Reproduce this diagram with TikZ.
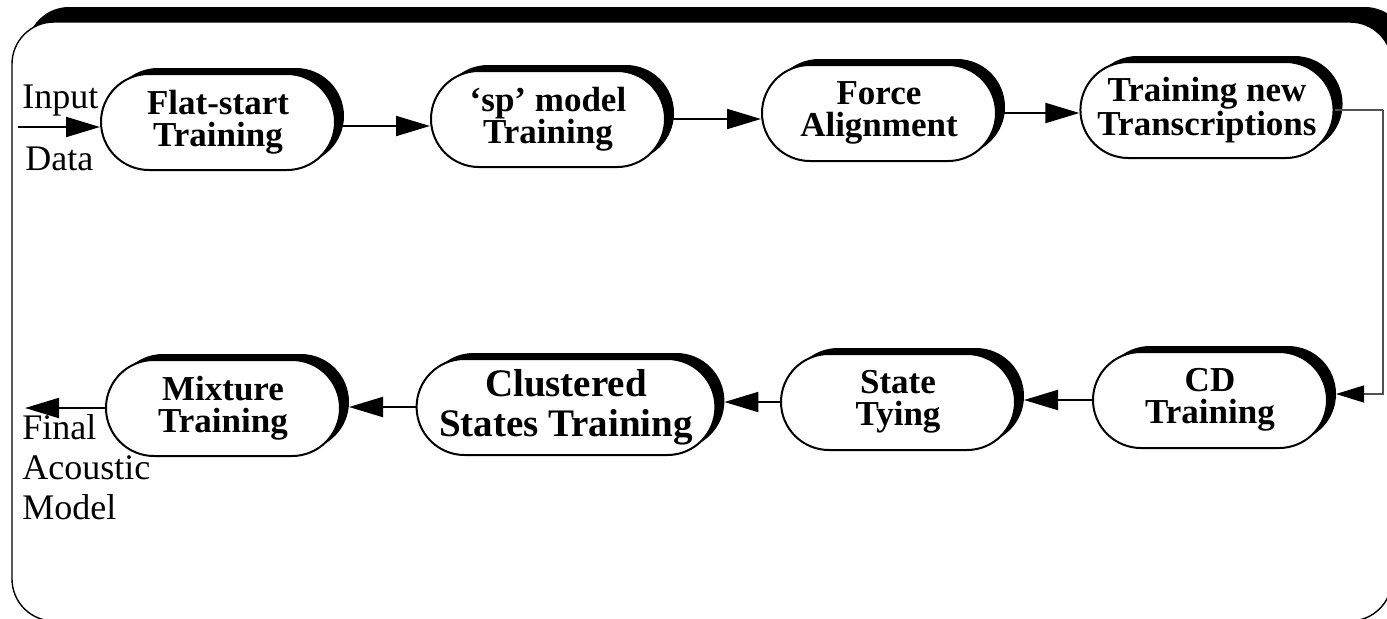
\documentclass[tikz,border=0pt]{standalone}
\usepackage{fontspec}
\setmainfont{Liberation Serif}
\usetikzlibrary{
    arrows.meta,
    shapes.misc,
    shadows
}
\definecolor{ink}{RGB}{0,0,0}
\definecolor{paper}{RGB}{255,255,255}
\definecolor{wire}{RGB}{80,80,80}
\tikzset{
    stage/.style={
        rounded rectangle,
        draw=ink,
        line width=1pt,
        fill=paper,
        text=ink,
        minimum width=121pt,
        minimum height=48pt,
        inner xsep=2pt,
        align=center,
        font=\fontsize{17.5}{16}\selectfont\bfseries,
        general shadow={fill=ink, shadow xshift=4.5pt, shadow yshift=3pt}
    },
    widestage/.style={
        stage,
        minimum width=146pt,
        font=\fontsize{19.5}{20}\selectfont\bfseries
    },
    panel/.style={
        draw=ink,
        fill=paper,
        line width=0.7pt,
        rounded corners=21pt
    },
    flow/.style={
        -{Triangle[length=17pt, width=10pt]},
        draw=ink,
        line width=1pt
    },
    backflow/.style={
        flow,
        shorten >=4pt
    },
    feed/.style={
        draw=wire,
        line width=0.6pt
    },
    ioname/.style={
        font=\fontsize{18}{20}\selectfont,
        text=ink,
        inner sep=0pt,
        align=left
    }
}
\begin{document}
\begin{tikzpicture}[x=0.5pt, y=-0.5pt]
\useasboundingbox (0, 0) rectangle (1387, 618);
\clip (0, 0) rectangle (1387, 618);

% Frame with its shadow
\fill[ink, rounded corners=21pt] (27, 7) rectangle (1407, 606);
\draw[panel] (12, 22) rectangle (1392, 621);

% Upper row
\node[stage] (flat) at (218, 122) {Flat-start\\Training};
\node[stage] (spmodel) at (548, 119) {‘sp’ model\\Training};
\node[stage] (force) at (879, 113) {Force\\Alignment};
\node[stage, minimum width=125pt] (newtrans) at (1207, 110) {Training new\\Transcriptions};

% Lower row
\node[stage] (cdtrain) at (1210, 400) {CD\\Training};
\node[stage] (tying) at (898, 402) {State\\Tying};
\node[widestage] (clustered) at (566, 407) {Clustered\\States Training};
\node[stage] (mixture) at (223, 408) {Mixture\\Training};

% Input and output
\node[ioname, anchor=base west] (input) at (22, 108) {Input};
\node[ioname, anchor=base west] (data) at (25, 170) {Data};
\node[ioname, anchor=north west] (final) at (22, 414) {Final\\Acoustic\\Model};
\coordinate (src) at (18, 127);
\coordinate (sink) at (25, 408);
\coordinate (turn) at (1383, 110);

% Connectors
\draw[flow] (src) -- (src -| flat.west);
\draw[flow] ([yshift=-2pt]flat.east) -- ([yshift=-2pt]flat.east -| spmodel.west);
\draw[flow] (spmodel.east) -- (spmodel.east -| force.west);
\draw[flow] (force.east) -- (force.east -| newtrans.west);
\draw[feed] (newtrans.east) -- (turn);
\draw[feed, -{Triangle[length=14pt, width=8.5pt, color=ink]}, shorten >=4pt] (turn) |- ([yshift=3pt]cdtrain.east);
\draw[backflow] (cdtrain.west) -- (cdtrain.west -| tying.east);
\draw[backflow] (tying.west) -- (tying.west -| clustered.east);
\draw[backflow] (clustered.west) -- (clustered.west -| mixture.east);
\draw[flow] (mixture.west) -- (sink);
\end{tikzpicture}
\end{document}
